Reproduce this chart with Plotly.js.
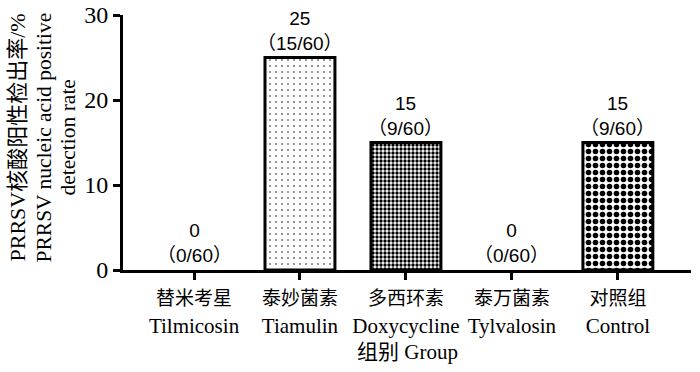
<!DOCTYPE html>
<html>
<head>
<meta charset="utf-8">
<script src="https://cdn.plot.ly/plotly-3.0.1.min.js"></script>
<style>html,body{margin:0;padding:0;background:#fff}#chart{width:700px;height:372px}</style>
</head>
<body>
<div id="chart"></div>
<script>
const categoriesCN = ["替米考星", "泰妙菌素", "多西环素", "泰万菌素", "对照组"];
const categoriesEN = ["Tilmicosin", "Tiamulin", "Doxycycline", "Tylvalosin", "Control"];
const rates = [0, 25, 15, 0, 15];
const counts = ["0/60", "15/60", "9/60", "0/60", "9/60"];
const yTicks = [0, 10, 20, 30];
const yTitleLines = ["PRRSV核酸阳性检出率/%", "PRRSV nucleic acid positive", "detection rate"];
const xTitle = "组别 Group";

const tickText = categoriesCN.map((c, i) => "<span style='font-size:19px'>" + c + "</span><br>" + categoriesEN[i]);
const xIdx = categoriesCN.map((_, i) => i);

const trace = {
  type: "bar",
  x: xIdx,
  y: rates,
  width: 0.66,
  marker: {
    color: "#fff",
    line: {color: "#000", width: rates.map(v => v > 0 ? 3 : 0)},
    pattern: {
      shape: ["", ".", ".", "", "."],
      size: [6, 6, 4, 6, 7],
      solidity: [0.1, 0.05, 0.55, 0.1, 0.5],
      fgcolor: "#000",
      bgcolor: "#fff",
      fillmode: "replace"
    }
  },
  hoverinfo: "skip"
};

const annotations = xIdx.map((x, i) => ({
  x: x, y: rates[i], xref: "x", yref: "y",
  text: rates[i] + "<br>（" + counts[i] + "）",
  showarrow: false, yanchor: "bottom", yshift: 2,
  font: {family: "Liberation Sans, Noto Sans CJK SC, sans-serif", size: 19, color: "#000"}
}));

const titleOffsets = [17, 43, 67];
const titleSizes = [22, 21.5, 21.5];
yTitleLines.forEach((t, i) => annotations.push({
  text: t, xref: "paper", yref: "paper", x: 0, y: 0.5,
  xanchor: "center", yanchor: "middle", xshift: titleOffsets[i] - 123, yshift: 5,
  textangle: -90, showarrow: false,
  font: {family: "Liberation Serif, Noto Sans CJK SC, serif", size: titleSizes[i], color: "#000"}
}));

annotations.push({
  text: xTitle, xref: "paper", yref: "paper", x: 0.5, y: 0,
  xanchor: "center", yanchor: "middle", yshift: -82, showarrow: false,
  font: {family: "Liberation Serif, Noto Sans CJK SC, serif", size: 21, color: "#000"}
});

const layout = {
  width: 700, height: 372,
  margin: {l: 123, r: 9, t: 15, b: 102},
  paper_bgcolor: "#fff", plot_bgcolor: "#fff",
  showlegend: false,
  font: {family: "Liberation Serif, Noto Sans CJK SC, serif", color: "#000"},
  xaxis: {
    range: [-0.67, 4.69],
    tickvals: xIdx, ticktext: tickText,
    showline: true, linewidth: 3, linecolor: "#000",
    ticks: "outside", ticklen: 7, tickwidth: 3, tickcolor: "#000",
    showgrid: false, zeroline: false,
    tickfont: {size: 21}
  },
  yaxis: {
    range: [0, 30], tickvals: yTicks,
    showline: true, linewidth: 3, linecolor: "#000",
    ticks: "outside", ticklen: 7, tickwidth: 3, tickcolor: "#000",
    showgrid: false, zeroline: false,
    tickfont: {size: 24}
  },
  annotations: annotations
};

Plotly.newPlot("chart", [trace], layout, {staticPlot: true});
</script>
</body>
</html>
